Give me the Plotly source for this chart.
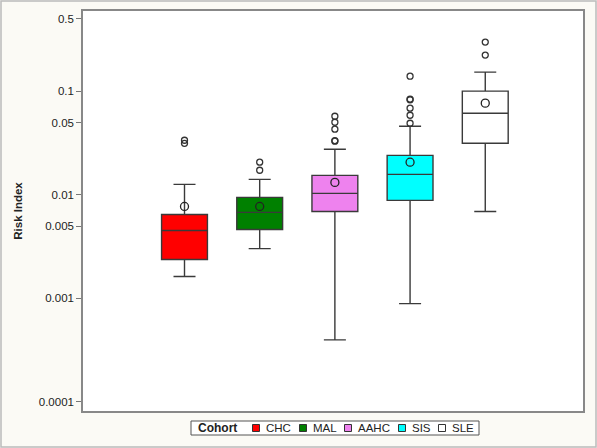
import plotly.graph_objects as go

# cohorts and box statistics
cohorts = ["CHC", "MAL", "AAHC", "SIS", "SLE"]
colors = ["#FF0000", "#008000", "#EE82EE", "#00FFFF", "#FFFFFF"]

q1 = [0.00238, 0.00463, 0.00692, 0.00885, 0.0315]
median = [0.00453, 0.00678, 0.01035, 0.0158, 0.0615]
q3 = [0.00647, 0.00946, 0.01545, 0.0241, 0.1004]
lower = [0.00163, 0.00303, 0.000398, 0.000891, 0.00692]
upper = [0.01264, 0.01413, 0.0276, 0.0460, 0.1535]
means = [0.00774, 0.00774, 0.01321, 0.0207, 0.0769]

outliers = {
    "CHC": [0.0337, 0.0315],
    "MAL": [0.0207, 0.0173],
    "AAHC": [0.0575, 0.0503, 0.0431, 0.0330, 0.0335],
    "SIS": [0.140, 0.0841, 0.0830, 0.0688, 0.0588, 0.0492],
    "SLE": [0.299, 0.224],
}

ytick_vals = [0.0001, 0.001, 0.005, 0.01, 0.05, 0.1, 0.5]
ytick_text = ["0.0001", "0.001", "0.005", "0.01", "0.05", "0.1", "0.5"]

# plot area in pixels (margins), used to place the hand-made legend
W, H = 597, 448
ML, MR, MT, MB = 83, 14, 11, 37
PW, PH = W - ML - MR, H - MT - MB


def px(x):
    return (x - ML) / PW


def py(y):
    return (H - MB - y) / PH


fig = go.Figure()

for i, c in enumerate(cohorts):
    fig.add_trace(go.Box(
        x=[c], q1=[q1[i]], median=[median[i]], q3=[q3[i]],
        lowerfence=[lower[i]], upperfence=[upper[i]],
        fillcolor=colors[i], line=dict(color="#3a3a3a", width=1.4),
        width=0.61, whiskerwidth=0.48, showlegend=False, hoverinfo="skip",
    ))
    # outliers
    fig.add_trace(go.Scatter(
        x=[c] * len(outliers[c]), y=outliers[c], mode="markers",
        marker=dict(symbol="circle-open", size=6, color="#333333", line=dict(width=1.3)),
        showlegend=False, hoverinfo="skip",
    ))

# means as open circles
fig.add_trace(go.Scatter(
    x=cohorts, y=means, mode="markers",
    marker=dict(symbol="circle-open", size=8, color="#222222", line=dict(width=1.3)),
    showlegend=False, hoverinfo="skip",
))

# hand-made legend (plotly's own is much wider)
shapes = [
    dict(type="rect", xref="paper", yref="paper",
         x0=px(1), x1=px(596), y0=py(447), y1=py(1),
         line=dict(color="#BBBBBB", width=1.5), layer="below"),
    dict(type="rect", xref="paper", yref="paper",
         x0=px(191), x1=px(479), y0=py(435), y1=py(421),
         line=dict(color="#555555", width=1), fillcolor="#FFFFFF"),
]
annotations = [dict(
    text="<b>Cohort</b>", xref="paper", yref="paper", x=px(196), y=py(428),
    xanchor="left", yanchor="middle", showarrow=False, font=dict(size=12),
)]
swatch_x = [256, 303, 348, 402, 442]
for i, c in enumerate(cohorts):
    sx = swatch_x[i]
    shapes.append(dict(
        type="rect", xref="paper", yref="paper",
        x0=px(sx - 3.5), x1=px(sx + 3.5), y0=py(431.5), y1=py(424.5),
        fillcolor=colors[i], line=dict(color="#333333", width=1),
    ))
    annotations.append(dict(
        text=c, xref="paper", yref="paper", x=px(sx + 8), y=py(428),
        xanchor="left", yanchor="middle", showarrow=False, font=dict(size=11.5),
    ))

fig.update_layout(
    width=W, height=H,
    margin=dict(l=ML, r=MR, t=MT, b=MB, autoexpand=False),
    paper_bgcolor="#FBFAF5",
    plot_bgcolor="#FFFFFF",
    font=dict(family="Liberation Sans, Arial, sans-serif", size=11, color="#222222"),
    boxmode="overlay",
    showlegend=False,
    shapes=shapes,
    annotations=annotations,
)

fig.update_xaxes(
    type="category", categoryorder="array", categoryarray=cohorts,
    range=[-1.35, 5.3], showticklabels=False, ticks="",
    showline=True, linecolor="#888888", linewidth=1.5, mirror=True, showgrid=False,
)
fig.update_yaxes(
    type="log", range=[-4.087, -0.224],
    tickvals=ytick_vals, ticktext=ytick_text,
    ticks="outside", ticklen=5, tickcolor="#777777", tickfont=dict(size=11.5),
    showline=True, linecolor="#888888", linewidth=1.5, mirror=True, showgrid=False,
    title=dict(text="<b>Risk Index</b>", font=dict(size=11.5), standoff=14),
    zeroline=False, automargin=False,
)

# drop the browser's default body margin so the figure sits at the page corner
fig.write_html("out.html", config={"displayModeBar": False},
               post_script="document.body.style.margin='0';")
